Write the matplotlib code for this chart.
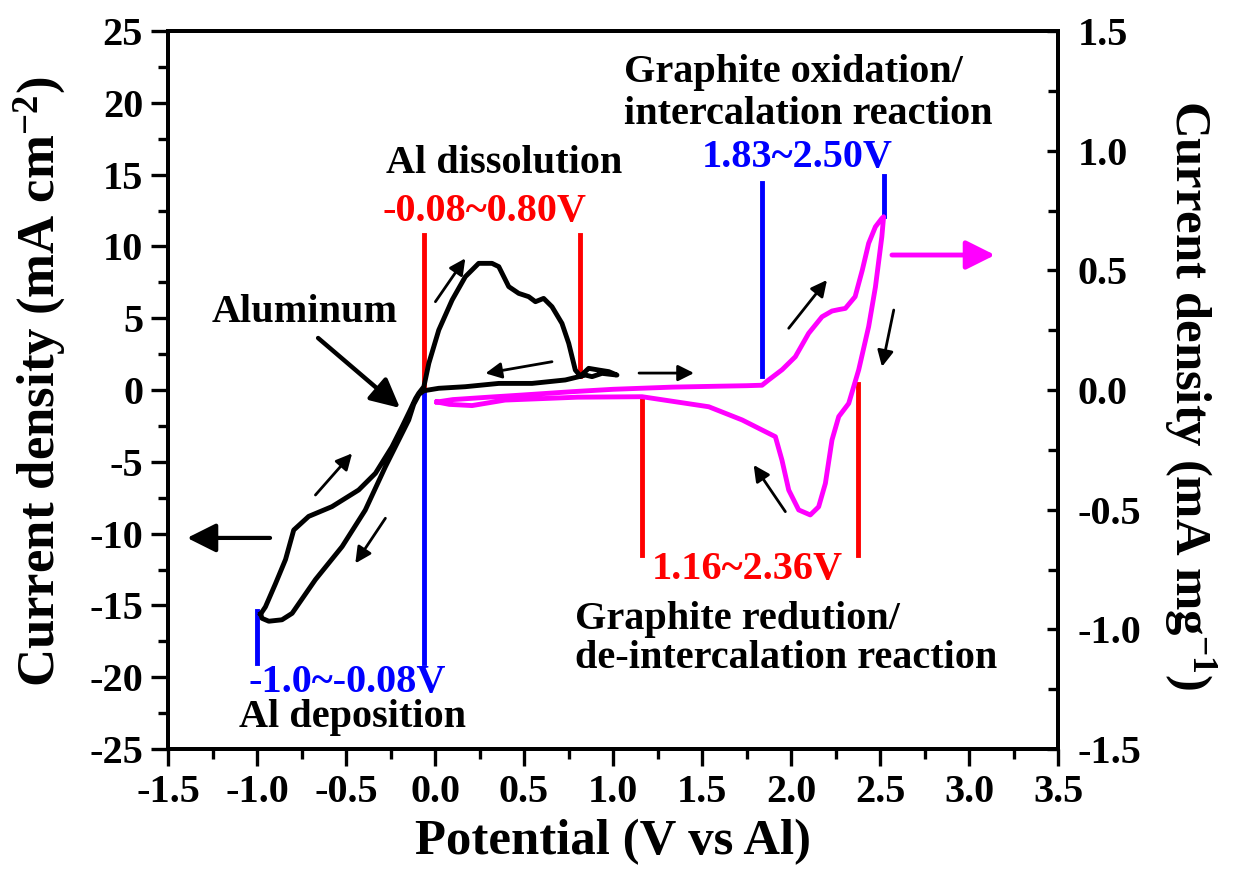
import matplotlib
matplotlib.use("Agg")
import matplotlib.pyplot as plt
from matplotlib.ticker import MultipleLocator, FormatStrFormatter

plt.rcParams['font.family'] = ['Liberation Serif', 'DejaVu Serif']
plt.rcParams['font.weight'] = 'bold'
plt.rcParams['mathtext.fontset'] = 'custom'
plt.rcParams['mathtext.rm'] = 'Liberation Serif:bold'
plt.rcParams['mathtext.default'] = 'rm'
plt.rcParams['axes.unicode_minus'] = False

# ---- data: Al electrode CV (left axis, mA cm^-2) ----
al_v = [-0.98, -0.953, -0.897, -0.84, -0.794, -0.71, -0.579, -0.429, -0.335, -0.242,
        -0.185, -0.14, -0.11, -0.092, -0.063, -0.035, 0.021, 0.096, 0.17, 0.245,
        0.32, 0.358, 0.414, 0.47, 0.526, 0.564, 0.61, 0.657, 0.713, 0.751,
        0.788, 0.817, 0.863, 0.92, 0.976, 1.022, 0.938, 0.882, 0.845, 0.732,
        0.545, 0.358, 0.17, 0.021, -0.063, -0.09, -0.12, -0.148, -0.204, -0.279,
        -0.392, -0.522, -0.672, -0.803, -0.86, -0.934, -0.972, -0.98]
al_i = [-15.6, -15.1, -13.5, -11.8, -9.75, -8.8, -8.12, -6.96, -5.8, -3.95,
        -2.55, -1.4, -0.6, -0.23, 0.23, 1.86, 4.18, 6.27, 7.89, 8.82,
        8.82, 8.59, 7.2, 6.73, 6.5, 6.15, 6.38, 5.8, 4.64, 3.25,
        1.39, 0.97, 1.51, 1.39, 1.28, 1.04, 1.16, 0.93, 1.04, 0.70,
        0.46, 0.46, 0.23, 0.12, -0.05, -0.3, -1.0, -2.09, -3.48, -5.34,
        -8.36, -10.9, -13.2, -15.55, -16.0, -16.1, -15.9, -15.6]

# ---- data: graphite CV (right axis, mA mg^-1) ----
gr_v = [0.011, 0.1, 0.3, 0.489, 0.77, 1.0, 1.33, 1.6, 1.75, 1.837,
        1.874, 1.95, 2.024, 2.099, 2.174, 2.23, 2.268, 2.305, 2.36, 2.4,
        2.436, 2.474, 2.51, 2.52, 2.51, 2.474, 2.436, 2.38, 2.324, 2.268,
        2.23, 2.193, 2.155, 2.108, 2.043, 1.987, 1.949, 1.912, 1.837, 1.725,
        1.538, 1.163, 0.8, 0.393, 0.208, 0.08, 0.011]
gr_i = [-0.05, -0.04, -0.03, -0.021, -0.007, 0.003, 0.012, 0.016, 0.018, 0.02,
        0.042, 0.085, 0.139, 0.237, 0.306, 0.33, 0.336, 0.341, 0.39, 0.50,
        0.613, 0.682, 0.717, 0.724, 0.64, 0.43, 0.265, 0.084, -0.056, -0.111,
        -0.209, -0.39, -0.488, -0.522, -0.501, -0.418, -0.293, -0.195, -0.167, -0.125,
        -0.07, -0.028, -0.03, -0.042, -0.065, -0.06, -0.05]

# ---- potential window markers (x, y_start, y_end in left-axis units) ----
red_x = [-0.06, 0.815, 1.165, 2.375]
red_y0 = [0.0, 1.0, -0.5, 0.45]
red_y1 = [10.8, 10.8, -11.5, -11.5]
blue_x = [-0.06, -1.0, 1.835, 2.525]
blue_y0 = [0.0, -15.4, 1.0, 12.1]
blue_y1 = [-19.0, -19.0, 14.4, 14.9]

xticks = [-1.5, -1.0, -0.5, 0.0, 0.5, 1.0, 1.5, 2.0, 2.5, 3.0, 3.5]
yticks_left = [-25, -20, -15, -10, -5, 0, 5, 10, 15, 20, 25]
yticks_right = [-1.5, -1.0, -0.5, 0.0, 0.5, 1.0, 1.5]

fig = plt.figure(figsize=(12.33, 8.73), dpi=100)
ax = fig.add_axes([0.1363, 0.142, 0.7218, 0.8225])
ax2 = ax.twinx()

ax.plot(al_v, al_i, color='black', lw=3.5, solid_joinstyle='round', zorder=3)
ax2.plot(gr_v, gr_i, color='#FF00FF', lw=3.5, solid_joinstyle='round', zorder=3)

for x, a, b in zip(red_x, red_y0, red_y1):
    ax.plot([x, x], [a, b], color='#FF0000', lw=3.5, zorder=2)
for x, a, b in zip(blue_x, blue_y0, blue_y1):
    ax.plot([x, x], [a, b], color='#0000FF', lw=3.5, zorder=2)

ax.set_xlim(-1.5, 3.5)
ax.set_ylim(-25, 25)
ax2.set_ylim(-1.5, 1.5)
ax.set_xticks(xticks)
ax.set_yticks(yticks_left)
ax2.set_yticks(yticks_right)
ax.xaxis.set_major_formatter(FormatStrFormatter('%.1f'))
ax2.yaxis.set_major_formatter(FormatStrFormatter('%.1f'))
ax.xaxis.set_minor_locator(MultipleLocator(0.25))
ax.yaxis.set_minor_locator(MultipleLocator(2.5))
ax2.yaxis.set_minor_locator(MultipleLocator(0.25))

for a in (ax, ax2):
    for s in a.spines.values():
        s.set_linewidth(2.8)
ax.tick_params(axis='both', which='major', direction='out', length=12, width=2.4,
               labelsize=29, pad=6)
ax.tick_params(axis='both', which='minor', direction='out', length=7, width=2.4)
ax.tick_params(top=False, right=False, which='both')
ax2.tick_params(axis='y', which='major', direction='in', length=8, width=2.4,
                labelsize=29, pad=14)
ax2.tick_params(axis='y', which='minor', direction='in', length=7, width=2.4)
for lab in ax.get_xticklabels() + ax.get_yticklabels() + ax2.get_yticklabels():
    lab.set_fontweight('bold')

ax.set_xlabel('Potential (V vs Al)', fontsize=36.5, fontweight='bold', labelpad=6)
ax.set_ylabel('Current density (mA cm$^{-2}$)', fontsize=38, fontweight='bold', va='center')
ax.yaxis.set_label_coords(-0.144, 0.511)
ax2.set_ylabel('Current density (mA mg$^{-1}$)', fontsize=36.5, fontweight='bold',
               rotation=270, va='center')
ax2.yaxis.set_label_coords(1.148, 0.493)

fs = 29
ax.text(-0.73, 5.43, 'Aluminum', fontsize=fs, fontweight='bold', ha='center', va='center')
ax.text(0.388, 15.8, 'Al dissolution', fontsize=fs, fontweight='bold', ha='center', va='center')
ax.text(0.275, 12.4, '-0.08~0.80V', fontsize=fs, fontweight='bold', color='#FF0000',
        ha='center', va='center')
ax.text(1.062, 22.1, 'Graphite oxidation/', fontsize=fs, fontweight='bold', ha='left', va='center')
ax.text(1.062, 19.2, 'intercalation reaction', fontsize=fs, fontweight='bold', ha='left', va='center')
ax.text(2.034, 16.2, '1.83~2.50V', fontsize=fs, fontweight='bold', color='#0000FF',
        ha='center', va='center')
ax.text(1.753, -12.5, '1.16~2.36V', fontsize=fs, fontweight='bold', color='#FF0000',
        ha='center', va='center')
ax.text(0.787, -16.0, 'Graphite redution/', fontsize=fs, fontweight='bold', ha='left', va='center')
ax.text(0.787, -18.7, 'de-intercalation reaction', fontsize=fs, fontweight='bold', ha='left', va='center')
ax.text(-0.494, -20.4, '-1.0~-0.08V', fontsize=fs, fontweight='bold', color='#0000FF',
        ha='center', va='center')
ax.text(-0.461, -22.8, 'Al deposition', fontsize=fs, fontweight='bold', ha='center', va='center')

def arrow(tail, head, color='black', lw=2.0, ms=24, style='-|>'):
    ax.annotate('', xy=head, xytext=tail, xycoords='data', textcoords='data',
                arrowprops=dict(arrowstyle=style, color=color, lw=lw,
                                mutation_scale=ms, shrinkA=0, shrinkB=0),
                zorder=4)

arrow((-0.657, 3.62), (-0.197, -1.25), lw=3.2, ms=44)
arrow((0.002, 6.15), (0.17, 9.17))
arrow((0.657, 1.97), (0.283, 1.16))
arrow((1.146, 1.18), (1.455, 1.18))
arrow((-0.672, -7.31), (-0.466, -4.41))
arrow((-0.279, -8.93), (-0.448, -12.07))
arrow((1.987, 4.30), (2.202, 7.66))
arrow((2.577, 5.57), (2.511, 1.62))
arrow((1.968, -8.47), (1.79, -5.22))
arrow((2.567, 9.40), (3.146, 9.40), color='#FF00FF', lw=3.5, ms=44)
arrow((-0.927, -10.3), (-1.393, -10.3), lw=3.0, ms=44)

fig.savefig('out.png', dpi=100)
